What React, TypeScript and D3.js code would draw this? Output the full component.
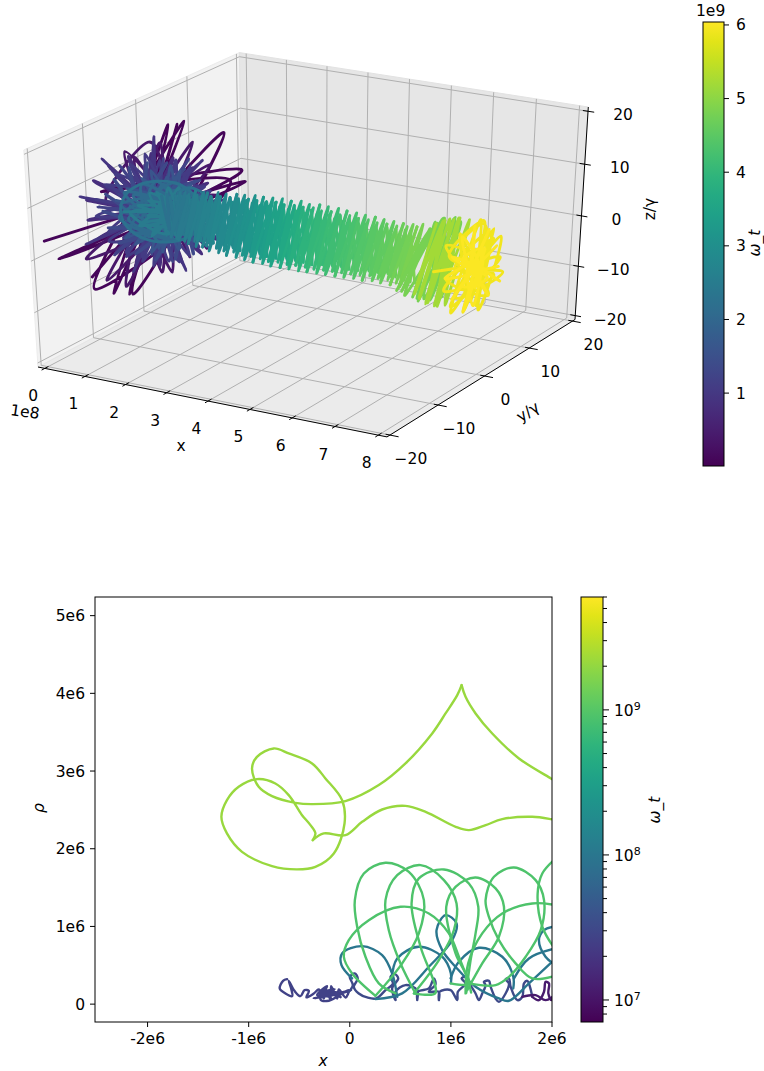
import React from 'react';
import * as d3 from 'd3';

type P3 = [number, number, number];
type P2 = [number, number];

const xTicks3d = [0, 1, 2, 3, 4, 5, 6, 7, 8];
const yTicks3d = [-20, -10, 0, 10, 20];
const zTicks3d = [-20, -10, 0, 10, 20];
const xLim3d: P2 = [-0.17, 8.2];
const yLim3d: P2 = [-20.6, 20.6];
const zLim3d: P2 = [-20.8, 20.8];

const topBarTicks = [1, 2, 3, 4, 5, 6];
const topBarDomain: P2 = [0.01, 6.04];

// x position along the beam -> omega_t in 1e9
const trailStopX = [0, 0.7, 1.2, 2.2, 4, 6, 7, 7.5, 8];
const trailStopW = [2, 2.4, 2.6, 3, 4, 4.7, 5.1, 5.9, 6.04];

// burst near x = 0, each group has one omega_t
const burstFirstW = 0.1;
const burstFirst: P3[] = [
  [0.02, -19.4, 3.5], [0.03, 19.8, -4.1], [0.04, -17.1, -1.1], [0.05, 18.8, -1.1], [0.05, -8.8, 7.7],
  [0.06, 16.3, -2], [0.06, -11, -10.1], [0.07, 7.3, 13.7], [0.08, -7.6, -12.7], [0.08, 4.1, 14.5],
  [0.09, -4.7, -14.4], [0.1, 5.7, 13.9], [0.1, -4.1, -14.7], [0.11, 14.9, 8.1], [0.12, -11.8, -7.2],
];
const burstSecondW = 0.4;
const burstSecond: P3[] = [
  [0.12, 10.8, -13.1], [0.13, -4.7, 13.5], [0.14, 3.5, -14.2], [0.14, -0.4, 13.3], [0.15, -8.8, 6.3],
  [0.16, 13, -3.5], [0.16, -13, -3], [0.17, 11.5, 3.5], [0.18, -9.5, -9], [0.18, 8, 9.5],
  [0.19, -6, -12], [0.2, 1.5, 12.4], [0.2, 1, -12.8], [0.21, -3.5, 12], [0.22, 6.5, -12.5],
];
const burstPetalsOuterW = 0.8;
const burstPetalsOuter: P3[] = [
  [0.1, 12.8, -4.5], [0.11, 4.9, -0.9], [0.12, 11.3, -0.2], [0.12, 4, 0.8], [0.13, 8.3, 4.3], [0.14, 2.6, 2.5],
  [0.14, 4.4, 8.1], [0.15, 0.9, 3.9], [0.16, 0, 11], [0.16, -0.9, 4.7], [0.17, -4.4, 12.5], [0.18, -2.6, 5.1],
  [0.18, -8.3, 12.7], [0.19, -4, 4.8], [0.2, -11.3, 11.2], [0.2, -4.9, 3.9], [0.21, -12.8, 8.3], [0.22, -5.2, 2.6],
  [0.22, -12.8, 4.5], [0.23, -4.9, 0.9], [0.24, -11.3, 0.2], [0.24, -4, -0.8], [0.25, -8.3, -4.3], [0.26, -2.6, -2.5],
  [0.26, -4.4, -8.1], [0.27, -0.9, -3.9], [0.28, 0, -11], [0.28, 0.9, -4.7], [0.29, 4.4, -12.5], [0.3, 2.6, -5.1],
  [0.3, 8.3, -12.7], [0.31, 4, -4.8], [0.32, 11.3, -11.2], [0.32, 4.9, -3.9], [0.33, 12.8, -8.3], [0.34, 5.2, -2.6],
];
const burstRaysOuterW = 0.95;
const burstRaysOuter: P3[] = [
  [0.14, 14.5, -5], [0.15, 1.5, -0.5], [0.15, 9, 0.5], [0.16, 0.5, 0.5], [0.16, 10, 5], [0.17, 0.8, 1.2],
  [0.17, 3.6, 6.5], [0.18, 0, 1.2], [0.18, 0.5, 14], [0.19, -0.5, 1.8], [0.19, -3.5, 10], [0.2, -1, 2],
  [0.2, -9.5, 14.5], [0.21, -1.5, 1.5], [0.21, -9, 9], [0.22, -1.5, 1], [0.22, -14, 9.5], [0.23, -2, 0.8],
  [0.23, -10.5, 3.6], [0.24, -1.5, 0.3], [0.24, -13.5, 0.2], [0.25, -1.5, -0.5], [0.25, -6.6, -3.4], [0.26, -0.8, -1],
  [0.26, -5, -9.5], [0.27, -0.3, -1.5], [0.27, 0, -8.8], [0.28, 0.3, -1.8], [0.28, 5.2, -14.5], [0.29, 1, -2],
  [0.29, 6.6, -10], [0.3, 1.5, -1.8], [0.3, 13.5, -13], [0.31, 1.8, -1.5], [0.31, 10, -6.6], [0.32, 2, -0.8],
];
const burstThirdW = 1.05;
const burstThird: P3[] = [
  [0.2, -11, 7.5], [0.2, 10, -8], [0.21, -9, -1.5], [0.22, 11, -1.5], [0.22, -6, -6], [0.23, 8, 2],
  [0.24, -3, -8.5], [0.24, 7, 5.5], [0.25, -1, -10.5], [0.26, 4, 8], [0.26, 2, -11], [0.27, -2, 12],
  [0.28, 6, -12], [0.28, -5, 11.5], [0.29, 9, -10.5], [0.3, -8, 11], [0.3, 12, -8], [0.31, -10, 10],
  [0.32, 11, -4.5], [0.32, -12, 5], [0.33, 9, 0.5], [0.34, -10, 1], [0.34, 6, 5], [0.35, -7, -4.5],
  [0.36, 3, 7.5], [0.36, -4, -7], [0.37, 0, 10], [0.38, -1, -8.5], [0.38, -3, 10.5], [0.39, 3, -11.5],
  [0.4, -6, 10], [0.4, 7, -10.5], [0.41, -9, 8.5], [0.42, 10, -9], [0.42, -11, 5.5], [0.43, 12, -5],
  [0.44, -8, -1], [0.44, 8, 0],
];
const burstRaysInnerW = 1.2;
const burstRaysInner: P3[] = [
  [0.24, 11, -2.5], [0.25, 1, 0], [0.25, 7, 2], [0.26, 0.5, 1], [0.26, 6.5, 7], [0.27, 0, 1.5], [0.27, 1.5, 9.5],
  [0.28, -0.5, 1.5], [0.28, -2, 8.5], [0.29, -1, 1.5], [0.29, -7, 12.2], [0.3, -1.5, 1], [0.3, -7.5, 7], [0.31, -1.5, 0.5],
  [0.31, -11.5, 6.5], [0.32, -1.5, 0], [0.32, -8, 1], [0.33, -1, -0.8], [0.33, -9, -4], [0.34, -0.5, -1.2], [0.34, -2, -7.5],
  [0.35, 0, -1.5], [0.35, 2, -11], [0.36, 0.5, -1.5], [0.36, 5, -8], [0.37, 1, -1.2], [0.37, 9, -11.5], [0.38, 1.5, -1],
  [0.38, 9, -5], [0.39, 1.5, -0.5],
];
const burstPetalsInnerW = 1.35;
const burstPetalsInner: P3[] = [
  [0.24, 11, -5.5], [0.25, 4, 0.8], [0.26, 10.3, -2], [0.26, 2.6, 2.5], [0.27, 8.5, 1.9], [0.28, 0.9, 3.9],
  [0.28, 5.5, 5.5], [0.29, -0.9, 4.7], [0.3, 1.9, 8.5], [0.3, -2.6, 5.1], [0.31, -1.9, 10.3], [0.32, -4, 4.8],
  [0.32, -5.5, 11.1], [0.33, -4.9, 3.9], [0.34, -8.5, 10.3], [0.34, -5.2, 2.6], [0.35, -10.3, 8.4], [0.36, -4.9, 0.9],
  [0.36, -11, 5.5], [0.37, -4, -0.8], [0.38, -10.3, 2], [0.38, -2.6, -2.5], [0.39, -8.5, -1.9], [0.4, -0.9, -3.9],
  [0.4, -5.5, -5.5], [0.41, 0.9, -4.7], [0.42, -1.9, -8.5], [0.42, 2.6, -5.1], [0.43, 1.9, -10.3], [0.44, 4, -4.8],
  [0.44, 5.5, -11.1], [0.45, 4.9, -3.9], [0.46, 8.5, -10.3], [0.46, 5.2, -2.6], [0.47, 10.3, -8.4], [0.48, 4.9, -0.9],
];
const burstFourthW = 1.6;
const burstFourth: P3[] = [
  [0.3, -8, 6], [0.31, 8, -6], [0.32, -7, 1], [0.33, 8, -1], [0.33, -5, -4], [0.34, 6, 2], [0.35, -2, -7],
  [0.36, 4, 6], [0.37, 0, -8], [0.38, 2, 8], [0.39, 3, -9], [0.4, -2, 9], [0.41, 6, -9], [0.42, -4, 8.5],
  [0.43, 8, -7.5], [0.44, -7, 8], [0.45, 9, -5], [0.46, -8, 4], [0.47, 7, 0], [0.48, -8, -1], [0.49, 5, 3],
  [0.5, -5, -3], [0.51, 2, 6], [0.52, -2, -6], [0.53, 0, 7], [0.54, 2, -8],
];
const burstFifthW = 2.1;
const burstFifth: P3[] = [
  [0.3, 8, -4], [0.31, -6.5, 6.8], [0.32, 2.5, -6.9], [0.33, -7.8, 2.6], [0.34, 5.4, 1.8], [0.35, -4, -3.2],
  [0.36, -0.8, 6.3], [0.37, 5.4, -7.1], [0.38, -7.8, 5.2], [0.39, 7.3, -1.2], [0.4, -0.8, -5.5], [0.41, -4, 7.2],
  [0.42, 7.3, -6.1], [0.43, -6.5, -0.3], [0.44, 2.5, 4.5], [0.45, 8, -4], [0.46, -6, 6.2], [0.47, 2.2, -6.4],
  [0.48, -7.2, 2.2], [0.49, 5, 1.4], [0.5, -3.6, -3], [0.51, -0.6, 5.8], [0.52, 5, -6.6], [0.53, -7.2, 4.8],
];
const burstCoreW = 2.5;
const burstCore: P3[] = [
  [0.35, -7, 3.4], [0.37, 6, -3.4], [0.39, -4.5, -0.5], [0.41, 5, 0.8], [0.43, -2.5, -3.5], [0.45, 3, 3.4],
  [0.47, 0, -4.5], [0.49, 0.5, 4.6], [0.51, 3, -5], [0.53, -2, 5], [0.55, 4.5, -4.2], [0.57, -4, 4.4],
  [0.59, 5, -2.5], [0.61, -4.5, 1.8], [0.63, 3.5, 0.5], [0.65, -3.5, -1.5], [0.67, 1.5, 2.8], [0.69, -1, -3.4],
  [0.4, -6.2, 2.8], [0.42, 5.6, -2.2], [0.44, -5, 3.8], [0.46, 5.8, -4.4], [0.48, -3, 5.2], [0.5, 1.8, -5.4],
  [0.52, -1.4, 4], [0.54, 2, -3.4], [0.56, -5.4, 0.6], [0.58, 6.2, -2.8], [0.6, -2.2, 3], [0.62, 1, -2.4],
  [0.64, -3.2, 1.4], [0.66, 3.8, -1.2], [0.68, -1.6, 1.6], [0.7, 2.4, -1.8], [0.72, -2.8, 3.6], [0.74, 3.2, -3.8],
  [0.76, -0.6, 2.2], [0.78, 1.4, -0.8], [0.8, -2, -0.6], [0.82, 2.6, 1.8], [0.84, -1.2, -2], [0.86, 0.8, 3],
];
const burstRimW = 2.25;
const burstRim: P3[] = [
  [0.32, 8, -4], [0.33, 7.3, -1.2], [0.34, 5.4, 1.8], [0.35, 2.5, 4.5], [0.36, -0.8, 6.3], [0.37, -4, 7.2],
  [0.38, -6.5, 6.8], [0.39, -7.8, 5.2], [0.4, -7.8, 2.6], [0.41, -6.5, -0.3], [0.42, -4, -3.2], [0.43, -0.8, -5.5],
  [0.44, 2.5, -6.9], [0.45, 5.4, -7.1], [0.46, 7.3, -6.1], [0.47, 8, -4], [0.5, 5, -0.5], [0.53, 7, 0.2],
  [0.56, 4, 3], [0.6, 1.5, 3.2],
];

// zigzag of the beam between the burst and the end cap
const trailCross: P3[] = [
  [0.45, -0.5, 3.4], [0.5, 0.4, -3.6], [0.56, -0.3, 3.8], [0.61, 0.6, -3.5], [0.67, -0.6, 3.5], [0.72, 0.3, -4],
  [0.78, -0.4, 3.9], [0.83, 0.6, -4.1], [0.89, -0.2, 3.6], [0.94, 0.5, -4.3], [1, -0.6, 4.2], [1.05, 0.2, -4],
  [1.11, -0.4, 4.3], [1.16, 0.6, -4.5], [1.22, -0.3, 3.9], [1.27, 0.5, -4.7], [1.33, -0.6, 4.5], [1.38, 0.3, -4.3],
  [1.44, -0.2, 4.6], [1.49, 0.6, -5], [1.55, -0.5, 4.2], [1.6, 0.3, -4.6], [1.66, -0.4, 4.9], [1.71, 0.6, -5.2],
  [1.77, -0.3, 4.4], [1.82, 0.5, -4.8], [1.88, -0.6, 5], [1.93, 0.2, -5.3], [1.99, -0.4, 4.6], [2.04, 0.6, -5],
  [2.1, -0.2, 5.2], [2.15, 0.5, -5.5], [2.21, -0.5, 4.7], [2.26, 0.3, -5.1], [2.32, -0.4, 5.3], [2.37, 0.6, -5.6],
  [2.43, -0.3, 4.8], [2.48, 0.5, -5.2], [2.54, -0.6, 5.5], [2.59, 0.2, -5.7], [2.65, -0.3, 5], [2.7, 0.6, -5.3],
  [2.76, -0.4, 5.6], [2.81, 0.4, -5.8], [2.87, -0.6, 5], [2.92, 0.3, -5.3], [2.98, -0.2, 5.7], [3.03, 0.6, -5.9],
  [3.09, -0.5, 5.1], [3.14, 0.3, -5.4], [3.2, -0.4, 5.8], [3.25, 0.5, -6], [3.31, -0.3, 5.2], [3.36, 0.6, -5.4],
  [3.42, -0.5, 5.8], [3.47, 0.2, -5.9], [3.53, -0.4, 5.1], [3.58, 0.6, -5.3], [3.64, -0.2, 5.8], [3.69, 0.5, -5.9],
  [3.75, -0.6, 5.1], [3.8, 0.3, -5.2], [3.86, -0.3, 5.7], [3.91, 0.6, -5.8], [3.97, -0.5, 5], [4.02, 0.2, -5.3],
  [4.08, -0.4, 5.7], [4.13, 0.6, -5.8], [4.19, -0.2, 5], [4.24, 0.5, -5.1], [4.3, -0.6, 5.6], [4.35, 0.3, -5.7],
  [4.41, -0.3, 4.9], [4.46, 0.6, -5.1], [4.52, -0.5, 5.5], [4.57, 0.2, -5.6], [4.63, -0.4, 4.8], [4.68, 0.6, -5],
  [4.74, -0.2, 5.4], [4.79, 0.5, -5.5], [4.85, -0.6, 4.7], [4.9, 0.3, -4.9], [4.96, -0.3, 5.3], [5.01, 0.6, -5.4],
  [5.07, -0.5, 4.6], [5.12, 0.2, -4.8], [5.18, -0.4, 5.2], [5.23, 0.6, -5.3], [5.29, -0.2, 4.5], [5.34, 0.5, -4.7],
  [5.4, -0.6, 5], [5.45, 0.3, -5.2], [5.51, -0.3, 4.4], [5.56, 0.6, -4.7], [5.62, -0.5, 4.9], [5.67, 0.2, -5.1],
  [5.73, -0.4, 4.4], [5.78, 0.6, -4.6], [5.84, -0.2, 4.8], [5.89, 0.5, -5], [5.95, -0.6, 4.3], [6, 0.3, -4.8],
  [6.06, -0.3, 4.8], [6.11, 0.6, -5.2], [6.17, -0.5, 4.5], [6.22, 0.2, -5], [6.28, -0.4, 5], [6.33, 0.6, -5.4],
  [6.39, -0.2, 4.8], [6.44, 0.5, -5.4],
];
const trailPath: P3[] = [
  [0.7, 1.2, 3.6], [0.75, -1.3, -3.8], [0.81, 1.4, 3.9], [0.86, -1, -4.1], [0.92, 1.1, 3.7], [0.97, -1.5, -3.9],
  [1.03, 1.6, 4.2], [1.08, -1.2, -4.2], [1.14, 1, 3.8], [1.19, -1.4, -4.4], [1.25, 1.5, 4.3], [1.3, -1, -4],
  [1.36, 1.3, 4.4], [1.41, -1.6, -4.6], [1.47, 1.1, 4], [1.52, -1.2, -4.7], [1.58, 1.7, 4.6], [1.63, -1.3, -4.3],
  [1.69, 1.2, 4.2], [1.74, -1.7, -4.9], [1.8, 1.5, 4.7], [1.85, -1.1, -4.5], [1.91, 1.3, 4.3], [1.96, -1.6, -5],
  [2.02, 1.8, 4.8], [2.07, -1.4, -4.6], [2.13, 1.2, 4.4], [2.18, -1.8, -5.1], [2.24, 1.6, 5], [2.29, -1.2, -4.6],
  [2.35, 1.4, 4.5], [2.4, -1.7, -5.2], [2.46, 1.9, 5.1], [2.51, -1.3, -4.8], [2.57, 1.3, 4.6], [2.62, -1.8, -5.3],
  [2.68, 1.7, 5.2], [2.73, -1.4, -4.7], [2.79, 1.2, 4.6], [2.84, -1.9, -5.4], [2.9, 1.8, 5.3], [2.95, -1.3, -4.9],
  [3.01, 1.5, 4.8], [3.06, -1.8, -5.4], [3.12, 1.9, 5.4], [3.17, -1.5, -5], [3.23, 1.3, 4.7], [3.28, -2, -5.5],
  [3.34, 1.8, 5.3], [3.39, -1.4, -4.9], [3.45, 1.5, 4.8], [3.5, -1.9, -5.5], [3.56, 2, 5.5], [3.61, -1.4, -5],
  [3.67, 1.4, 4.8], [3.72, -2, -5.4], [3.78, 1.8, 5.3], [3.83, -1.5, -4.8], [3.89, 1.6, 4.9], [3.94, -1.9, -5.5],
  [4, 2, 5.4], [4.05, -1.4, -4.9], [4.11, 1.4, 4.7], [4.16, -2, -5.3], [4.22, 1.9, 5.4], [4.27, -1.5, -4.9],
  [4.33, 1.5, 4.8], [4.38, -1.9, -5.3], [4.44, 2.1, 5.3], [4.49, -1.4, -4.8], [4.55, 1.4, 4.6], [4.6, -2, -5.2],
  [4.66, 1.9, 5.2], [4.71, -1.5, -4.7], [4.77, 1.5, 4.7], [4.82, -1.9, -5.2], [4.88, 2, 5.1], [4.93, -1.5, -4.6],
  [4.99, 1.4, 4.5], [5.04, -2, -5.1], [5.1, 1.9, 5], [5.15, -1.5, -4.5], [5.21, 1.5, 4.5], [5.26, -1.9, -5],
  [5.32, 2, 4.9], [5.37, -1.5, -4.4], [5.43, 1.4, 4.3], [5.48, -2, -5], [5.54, 1.9, 4.8], [5.59, -1.4, -4.3],
  [5.65, 1.5, 4.3], [5.7, -1.9, -4.8], [5.76, 2, 4.7], [5.81, -1.6, -4.3], [5.87, 1.6, 4.2], [5.92, -2.1, -4.8],
  [5.98, 2, 4.6], [6.03, -1.5, -4.4], [6.09, 1.8, 4.3], [6.14, -2, -4.9], [6.2, 2.1, 4.7], [6.25, -1.7, -4.6],
  [6.31, 1.9, 4.5], [6.36, -2.1, -5], [6.42, 2.2, 5], [6.47, -1.8, -4.9],
];

const capLimeW = 4.8;
const capLimeFan: P3[] = [
  [6.5, -3.2, -4], [6.6, 2, 4.5], [6.45, -3.4, -4.8], [6.7, 1.2, 5], [6.6, -0.4, -7.7], [6.85, 0.8, 6.7],
  [6.9, 0, -7.1], [7.1, 0.4, 8], [7, -1.2, -7], [7.4, 0.2, 7.4], [6.75, -1.5, -7.4], [7.2, 1.8, 7.6],
  [6.55, -2.6, -6], [7, -0.2, 7.2], [6.8, 0.6, -7.6], [7.3, 0.8, 7.8], [7.05, 0.8, -7.4], [6.95, 1.6, 7.2],
  [6.65, -1.8, -6.6], [6.8, 2.2, 5.8], [6.5, -2.8, -5.2], [6.7, 2.8, 5.2], [7, -2.6, -6], [7.2, 3, 6.2],
  [7.2, -2, -7.2], [7.35, 1.4, 7],
];
const capLimeBright = 5.2;
const capLime: P3[] = [
  [6.7, 2.4, 5.4], [6.75, -2.4, -5.6], [6.8, 2.8, 5.8], [6.84, -2.2, -6.2], [6.88, 2.6, 6.2], [6.92, -2.8, -6],
  [6.96, 1.5, 6.8], [7, -1.8, -7.2], [7.04, 3, 6.4], [7.08, -3, -6.6], [7.12, 1.4, 7.4], [7.16, -1.2, -7.4],
  [7.2, 2.8, 7], [7.24, -2.6, -7], [7.28, 1.8, 7.6], [7.32, -1, -7.6], [7.36, 3.4, 6.6], [7.4, -3.4, -6.4],
];
const capYellowW = 5.9;
const capYellow: P3[] = [
  [7.52, -5.5, 1.5], [7.56, 5.5, -1.8], [7.58, -3.5, 5.5], [7.6, 4, -6.5], [7.62, -1, 6.5], [7.64, 1.5, -7.5],
  [7.66, 3, 7.2], [7.68, -3, -7.5], [7.7, 5.5, 2.5], [7.72, -5, -2.2], [7.74, 5.6, -4.6], [7.76, -4.5, 4.2],
  [7.78, 2.2, 7.6], [7.8, -1.5, -8], [7.81, 4.5, 5], [7.82, -4.4, -5.4], [7.84, 5.8, -1], [7.86, -6, 0.8],
  [7.88, 3, -7], [7.9, -2.8, 7], [7.92, 0.5, 8], [7.94, 0.5, -8.4], [7.95, 4.8, 3.6], [7.96, -4.6, -3.4],
  [7.98, 5.2, -3.4], [8, -5.4, 2.8], [8.02, 1.5, 6.2], [8.04, -1, -6.6],
];
const capYellowLast = 6;
const capYellowPetals: P3[] = [
  [7.8, 5.9, -3], [7.82, 1, -1], [7.84, 5, 1.5], [7.86, 0, 0], [7.88, 2.8, 5.8], [7.9, -1, 0.5], [7.8, 0.4, 7.6],
  [7.82, -0.5, -0.5], [7.86, -2.8, 7.2], [7.88, 0.6, 0.4], [7.9, -5.2, 4.6], [7.8, 0, -1], [7.82, -5.8, 0.8],
  [7.84, 0.8, 0.8], [7.88, -4.8, -3.6], [7.9, -0.6, -0.2], [7.92, -2.6, -7], [7.95, 1, 1], [7.8, 0.6, -7.8],
  [7.82, -1, 0.4], [7.86, 3.4, -7.2], [7.88, -0.4, 0.6], [7.9, 5.4, -5.4], [7.92, 1, 0], [7.84, 2.4, 2.2],
  [7.88, -2.2, -2.6], [7.9, 2.6, -3.4], [7.86, -2.6, 2.8], [7.92, 0.4, 3.4], [7.88, 0.2, -4],
];

// lower panel: x and rho in units of 1e6
const xTicks2d = [-2, -1, 0, 1, 2];
const xTickLabels2d = ['-2e6', '-1e6', '0', '1e6', '2e6'];
const rhoTicks2d = [0, 1, 2, 3, 4, 5];
const rhoTickLabels2d = ['0', '1e6', '2e6', '3e6', '4e6', '5e6'];
const xLim2d: P2 = [-2.52, 2];
const rhoLim2d: P2 = [-0.23, 5.24];
const logBarDomain: P2 = [7.05e6, 6e9];
const logBarMajor = [1e7, 1e8, 1e9];
const logBarExponents = ['7', '8', '9'];
const logBarMinor = [8e6, 9e6, 2e7, 3e7, 4e7, 5e7, 6e7, 7e7, 8e7, 9e7, 2e8, 3e8, 4e8, 5e8, 6e8, 7e8, 8e8, 9e8, 2e9, 3e9, 4e9, 5e9, 6e9];

const limeW = 2.1e9;
const limeRight: P2[] = [
  [2.02, 2.88], [1.99, 2.905], [1.673, 3.162], [1.409, 3.483], [1.244, 3.741], [1.145, 3.955], [1.106, 4.106],
];
const limeLoops: P2[] = [
  [1.106, 4.106], [1.063, 3.977], [0.947, 3.741], [0.815, 3.484], [0.551, 3.098], [0.287, 2.819], [-0.043, 2.613],
  [-0.373, 2.574], [-0.538, 2.591], [-0.769, 2.677], [-0.901, 2.797], [-0.967, 3.033], [-0.918, 3.183], [-0.752, 3.291],
  [-0.604, 3.226], [-0.373, 3.098], [-0.241, 2.905], [-0.076, 2.625], [-0.052, 2.325], [-0.158, 1.939], [-0.34, 1.767],
  [-0.522, 1.734], [-0.769, 1.776], [-1.066, 1.96], [-1.215, 2.197], [-1.27, 2.411], [-1.215, 2.625], [-1.099, 2.797],
  [-0.918, 2.896], [-0.736, 2.84], [-0.604, 2.69], [-0.505, 2.497], [-0.472, 2.432], [-0.389, 2.304], [-0.34, 2.197],
  [-0.366, 2.111],
];
const limeTail: P2[] = [
  [-0.366, 2.111], [-0.257, 2.197], [-0.043, 2.175], [0.122, 2.346], [0.32, 2.505], [0.551, 2.552], [0.75, 2.475],
  [1.047, 2.282], [1.178, 2.239], [1.344, 2.304], [1.508, 2.381], [1.805, 2.411], [1.99, 2.381], [2.03, 2.37],
];

const greenW = 9.1e8;
const greenLoopA: P2[] = [
  [0.452, 0.138], [0.287, 0.267], [0.155, 0.61], [0.073, 0.996], [0.05, 1.339], [0.139, 1.682], [0.353, 1.819],
  [0.584, 1.703], [0.733, 1.339], [0.683, 0.91], [0.518, 0.524], [0.254, 0.107],
];
const greenArchA: P2[] = [
  [0.254, 0.107], [0.023, 0.395], [-0.059, 0.61], [-0.01, 0.824], [0.188, 1.081], [0.502, 1.253], [0.782, 1.167],
  [0.98, 0.91], [1.079, 0.61], [1.178, 0.267], [1.2, 0.15],
];
const greenLoopB: P2[] = [
  [0.65, 0.138], [0.502, 0.524], [0.386, 0.952], [0.353, 1.339], [0.469, 1.66], [0.7, 1.789], [0.931, 1.596],
  [1.056, 1.296], [1.03, 0.952], [0.881, 0.566], [0.634, 0.138],
];
const greenLoopC: P2[] = [
  [0.634, 0.138], [0.75, 0.12], [0.848, 0.146], [0.7, 0.738], [0.611, 1.296], [0.683, 1.618], [0.931, 1.733],
  [1.178, 1.553], [1.271, 1.253], [1.244, 0.91], [1.195, 0.566], [1.152, 0.146],
];
const greenLoopD: P2[] = [
  [0.997, 0.267], [1.178, 0.267], [1.046, 0.652], [0.954, 1.253], [1.046, 1.51], [1.244, 1.63], [1.442, 1.489],
  [1.525, 1.253], [1.475, 0.867], [1.31, 0.524], [1.162, 0.181],
];
const greenLoopE: P2[] = [
  [2.02, 0.36], [1.805, 0.331], [1.64, 0.524], [1.475, 0.824], [1.376, 1.124], [1.343, 1.339], [1.426, 1.639],
  [1.624, 1.759], [1.838, 1.596], [1.921, 1.339], [1.888, 0.952], [1.74, 0.61], [1.574, 0.352], [1.442, 0.245],
  [1.178, 0.267],
];
const greenArchB: P2[] = [[1.145, 0.138], [1.171, 0.524], [1.31, 0.91], [1.508, 1.167], [1.805, 1.296], [2.037, 1.274]];
const greenEdge: P2[] = [[2.037, 1.875], [1.904, 1.682], [1.858, 1.424], [1.904, 0.996], [2.037, 0.695]];

const tealW = 1e8;
const tealArchA: P2[] = [[0.023, 0.331], [-0.082, 0.502], [-0.076, 0.652], [0.122, 0.746], [0.32, 0.631], [0.419, 0.395], [0.469, 0.094]];
const tealArchB: P2[] = [[0.413, 0.31], [0.469, 0.588], [0.683, 0.738], [0.914, 0.61], [1, 0.395], [1, 0.267]];
const tealArchC: P2[] = [[0.997, 0.331], [1.079, 0.545], [1.277, 0.725], [1.508, 0.61], [1.617, 0.352], [1.617, 0.202]];
const tealArchD: P2[] = [[1.624, 0.331], [1.772, 0.588], [2.037, 0.717]];
const tealLoop: P2[] = [
  [0.254, 0.065], [0.518, 0.138], [0.782, 0.481], [1.013, 0.824], [1.056, 1.039], [0.947, 1.145], [0.858, 0.952],
  [0.914, 0.695], [1.046, 0.481], [1.244, 0.224], [1.475, 0.073], [1.574, 0.043], [1.772, 0.267], [2.037, 0.588],
];
const tealEdge: P2[] = [[2.037, 1.003], [1.921, 0.952], [1.871, 0.824], [1.936, 0.61], [2.037, 0.502]];

const indigoW = 3.2e7;
const indigoCurl: P2[] = [
  [-0.01, 0.159], [0.03, 0.245], [0, 0.352], [0.049, 0.395], [0.079, 0.33], [0.04, 0.223], [0.089, 0.137], [0.172, 0.086],
  [0.261, 0.073], [0.353, 0.18], [0.426, 0.266], [0.403, 0.352], [0.446, 0.386], [0.479, 0.33], [0.419, 0.202], [0.452, 0.051],
  [0.452, 0.159], [0.551, 0.245], [0.667, 0.18], [0.667, 0.051], [0.673, 0.159], [0.782, 0.202], [0.815, 0.287], [0.832, 0.33],
  [0.848, 0.257], [0.782, 0.159], [0.881, 0.159], [0.881, 0.051], [0.888, 0.159], [0.997, 0.18], [1.063, 0.051], [1.069, 0.159],
  [1.145, 0.266], [1.106, 0.33], [1.145, 0.352], [1.172, 0.287], [1.244, 0.137], [1.277, 0.051], [1.31, 0.137], [1.343, 0.245],
  [1.327, 0.287], [1.376, 0.3], [1.393, 0.223], [1.442, 0.073], [1.475, 0.03], [1.541, 0.137], [1.574, 0.266], [1.541, 0.318],
  [1.574, 0.33], [1.591, 0.223], [1.657, 0.051], [1.706, 0.094], [1.723, 0.266], [1.756, 0.3], [1.782, 0.223], [1.805, 0.094],
];
const purpleW = 1.15e7;
const purpleCurl: P2[] = [
  [1.805, 0.094], [1.871, 0.051], [1.921, 0.159], [1.937, 0.287], [1.97, 0.266], [1.964, 0.137], [1.997, 0.051], [2.036, 0.137],
];
const purpleTail: P2[] = [[1.706, 0.094], [1.838, 0.116], [1.937, 0.051], [2.03, 0.12]];
const blobW = 2.7e7;
const blobCurl: P2[] = [
  [-0.62, 0.321], [-0.66, 0.3], [-0.693, 0.201], [-0.636, 0.137], [-0.57, 0.103], [-0.58, 0.201], [-0.603, 0.3], [-0.547, 0.171],
  [-0.488, 0.103], [-0.448, 0.18], [-0.405, 0.171], [-0.429, 0.086], [-0.356, 0.137], [-0.306, 0.188], [-0.257, 0.073], [-0.24, 0.201],
  [-0.191, 0.06], [-0.184, 0.231], [-0.125, 0.073], [-0.108, 0.188], [-0.042, 0.086], [-0.01, 0.18], [-0.207, 0.043], [-0.29, 0.06],
  [-0.224, 0.231], [-0.323, 0.116], [-0.092, 0.146], [-0.273, 0.158], [-0.158, 0.137], [-0.356, 0.073], [-0.059, 0.158], [0.014, 0.18],
  [-0.12, 0.13], [-0.25, 0.1], [-0.15, 0.19], [-0.3, 0.13], [-0.2, 0.1], [-0.27, 0.18], [-0.09, 0.09],
];

const FONT = '"DejaVu Sans"';
const FS = 15.5;

// same camera matplotlib uses for elev 30, azim -60, dist 10
const elev = (30 * Math.PI) / 180;
const azim = (-60 * Math.PI) / 180;
const dist = 10;
const uScale = d3.scaleLinear().domain(xLim3d).range([-0.5, 0.5]);
const vScale = d3.scaleLinear().domain(yLim3d).range([-0.5, 0.5]);
const wScale = d3.scaleLinear().domain(zLim3d).range([-0.5, 0.5]);

function camera(x: number, y: number, z: number): P2 {
  const u = uScale(x), v = vScale(y), w = wScale(z);
  const right = -Math.sin(azim) * u + Math.cos(azim) * v;
  const up = -Math.sin(elev) * Math.cos(azim) * u - Math.sin(elev) * Math.sin(azim) * v + Math.cos(elev) * w;
  const depth = Math.cos(elev) * Math.cos(azim) * u + Math.cos(elev) * Math.sin(azim) * v + Math.sin(elev) * w;
  const k = dist / (dist - depth);
  return [right * k, up * k];
}

const [x0, x1] = xLim3d, [y0, y1] = yLim3d, [z0, z1] = zLim3d;
const screenX = d3.scaleLinear().domain([camera(x0, y0, z0)[0], camera(x1, y1, z0)[0]]).range([38, 575]);
const screenY = d3.scaleLinear().domain([camera(x0, y0, z0)[1], camera(x1, y1, z1)[1]]).range([367, 107]);
function pr(x: number, y: number, z: number): P2 {
  const c = camera(x, y, z);
  return [screenX(c[0]), screenY(c[1])];
}
const line3 = (pts: P2[]) => 'M' + pts.map(p => `${p[0].toFixed(1)},${p[1].toFixed(1)}`).join('L');
const curve3d = d3.line<P3>(d => pr(d[0], d[1], d[2])[0], d => pr(d[0], d[1], d[2])[1]).curve(d3.curveCatmullRom.alpha(1));

const topColor = d3.scaleSequential(d3.interpolateViridis).domain(topBarDomain);
const trailOmega = d3.scaleLinear().domain(trailStopX).range(trailStopW);
const topBarY = d3.scaleLinear().domain(topBarDomain).range([466, 22]);

const bx = d3.scaleLinear().domain(xLim2d).range([95, 552]);
const by = d3.scaleLinear().domain(rhoLim2d).range([1022, 597]);
const logBarY = d3.scaleLog().domain(logBarDomain).range([1022, 597]);
const logColor = d3.scaleSequentialLog(d3.interpolateViridis).domain(logBarDomain);
const curve2d = d3.line<P2>(d => bx(d[0]), d => by(d[1])).curve(d3.curveCatmullRom.alpha(0.5));

const gradientStops = d3.quantize(d3.interpolateViridis, 24);

const bursts: [P3[], number][] = [
  [burstFirst, burstFirstW], [burstSecond, burstSecondW], [burstPetalsOuter, burstPetalsOuterW],
  [burstRaysOuter, burstRaysOuterW], [burstThird, burstThirdW], [burstRaysInner, burstRaysInnerW],
  [burstPetalsInner, burstPetalsInnerW], [burstFourth, burstFourthW], [burstFifth, burstFifthW], [burstCore, burstCoreW], [burstRim, burstRimW],
];
const capLayers: [P3[], number][] = [
  [capLimeFan, capLimeW], [capLime, capLimeBright], [capYellow, capYellowW], [capYellowPetals, capYellowLast],
];
const lowerCurves: [P2[], number][] = [
  [blobCurl, blobW], [indigoCurl, indigoW], [purpleCurl, purpleW], [purpleTail, purpleW],
  [tealArchA, tealW], [tealArchB, tealW], [tealArchC, tealW], [tealArchD, tealW], [tealLoop, tealW], [tealEdge, tealW],
  [greenLoopA, greenW], [greenArchA, greenW], [greenLoopB, greenW], [greenLoopC, greenW], [greenLoopD, greenW],
  [greenLoopE, greenW], [greenArchB, greenW], [greenEdge, greenW],
  [limeRight, limeW], [limeLoops, limeW], [limeTail, limeW],
];

// trail gets cut in short runs so the colour can follow x
const runsOf = (pts: P3[]) => d3.range(0, pts.length - 1, 3).map(i => pts.slice(i, i + 4));
const trailRuns: P3[][] = [...runsOf(trailCross), ...runsOf(trailPath)];

function fmt(v: number) {
  return v < 0 ? `\u2212${-v}` : `${v}`;
}

export default function App() {
  const a = pr(x0, y0, z0), b = pr(x1, y0, z0), c = pr(x1, y1, z0), d = pr(x1, y1, z1);
  const back = pr(x0, y1, z0), backTop = pr(x0, y1, z1), leftTop = pr(x0, y0, z1);
  const txt = { fontFamily: FONT, fontSize: FS, fill: '#000' } as const;
  const gridStyle = { stroke: '#b0b0b0', strokeWidth: 1, fill: 'none' } as const;
  const tick = { stroke: '#000', strokeWidth: 1, fill: 'none' } as const;

  return (
    <svg width={764} height={1071} style={{ position: 'absolute', left: 0, top: 0, background: '#fff' }}>
      <defs>
        <linearGradient id="viridis-up" x1="0" y1="1" x2="0" y2="0">
          {gradientStops.map((col, i) => (
            <stop key={i} offset={i / (gradientStops.length - 1)} stopColor={col} />
          ))}
        </linearGradient>
        <clipPath id="lower-box">
          <rect x={95} y={597} width={457} height={425} />
        </clipPath>
      </defs>

      {/* 3d panes */}
      <path d={line3([a, back, backTop, leftTop]) + 'Z'} fill="#f2f2f2" stroke="#ececec" />
      <path d={line3([back, c, d, backTop]) + 'Z'} fill="#e6e6e6" stroke="#e2e2e2" />
      <path d={line3([a, b, c, back]) + 'Z'} fill="#ebebeb" stroke="#e6e6e6" />

      {/* 3d grid */}
      {xTicks3d.map(t => (
        <path key={t} {...gridStyle} d={line3([pr(t, y0, z0), pr(t, y1, z0), pr(t, y1, z1)])} />
      ))}
      {yTicks3d.map(t => (
        <path key={t} {...gridStyle} d={line3([pr(x1, t, z0), pr(x0, t, z0), pr(x0, t, z1)])} />
      ))}
      {zTicks3d.map(t => (
        <path key={t} {...gridStyle} d={line3([pr(x0, y0, t), pr(x0, y1, t), pr(x1, y1, t)])} />
      ))}

      {/* 3d axis lines and ticks */}
      <path {...tick} d={line3([a, b])} />
      <path {...tick} d={line3([b, c])} />
      <path {...tick} d={line3([c, d])} />
      {xTicks3d.map(t => (
        <g key={t}>
          <path {...tick} d={line3([pr(t, y0 - 0.6, z0), pr(t, y0 + 0.7, z0)])} />
          <text {...txt} textAnchor="middle" x={pr(t, y0, z0)[0] - 11.5} y={pr(t, y0, z0)[1] + 33}>{t}</text>
        </g>
      ))}
      {yTicks3d.map(t => (
        <g key={t}>
          <path {...tick} d={line3([pr(x1 - 0.1, t, z0), pr(x1 + 0.2, t, z0)])} />
          <text {...txt} textAnchor="middle" x={pr(x1, t, z0)[0] + 21} y={pr(x1, t, z0)[1] + 29}>{fmt(t)}</text>
        </g>
      ))}
      {zTicks3d.map(t => (
        <g key={t}>
          <path {...tick} d={line3([pr(x1 - 0.12, y1, t), pr(x1 + 0.14, y1, t)])} />
          <text {...txt} textAnchor="middle" x={pr(x1, y1, t)[0] + 35} y={pr(x1, y1, t)[1] + 9}>{fmt(t)}</text>
        </g>
      ))}
      <text {...txt} textAnchor="middle" x={181} y={451}>x</text>
      <text {...txt} textAnchor="middle" transform="translate(25,412) rotate(8)" y={5}>1e8</text>
      <text {...txt} textAnchor="middle" transform="translate(528,412) rotate(-33)" y={5}>y/γ</text>
      <text {...txt} textAnchor="middle" transform="translate(650,209) rotate(-90)" y={5}>z/γ</text>

      {/* trajectory */}
      <g fill="none" strokeWidth={2.9} strokeLinecap="round" strokeLinejoin="round">
        {bursts.map(([pts, w], i) => (
          <path key={i} d={curve3d(pts) ?? ''} stroke={topColor(w)} />
        ))}
        {trailRuns.map((run, i) => (
          <path key={i} d={curve3d(run) ?? ''} stroke={topColor(trailOmega(run[0][0]))} />
        ))}
        {capLayers.map(([pts, w], i) => (
          <path key={i} d={curve3d(pts) ?? ''} stroke={topColor(w)} />
        ))}
      </g>

      {/* top colorbar */}
      <rect x={703} y={22} width={21} height={444} fill="url(#viridis-up)" stroke="#000" strokeWidth={1} />
      {topBarTicks.map(t => (
        <g key={t}>
          <line {...tick} x1={724} x2={729} y1={topBarY(t)} y2={topBarY(t)} />
          <text {...txt} x={736} y={topBarY(t) + 5.5}>{t}</text>
        </g>
      ))}
      <text {...txt} x={696} y={16}>1e9</text>
      <text {...txt} fontStyle="italic" textAnchor="middle" transform="translate(760,243) rotate(-90)">ω_t</text>

      {/* lower panel */}
      <g clipPath="url(#lower-box)" fill="none" strokeWidth={2.4} strokeLinecap="round">
        {lowerCurves.map(([pts, w], i) => (
          <path key={i} d={curve2d(pts) ?? ''} stroke={logColor(w)} />
        ))}
      </g>
      <rect x={95} y={597} width={457} height={425} fill="none" stroke="#000" strokeWidth={1} />
      {xTicks2d.map((t, i) => (
        <g key={t}>
          <line {...tick} x1={bx(t)} x2={bx(t)} y1={1022} y2={1027} />
          <text {...txt} textAnchor="middle" x={bx(t)} y={1044}>{xTickLabels2d[i]}</text>
        </g>
      ))}
      {rhoTicks2d.map((t, i) => (
        <g key={t}>
          <line {...tick} x1={90} x2={95} y1={by(t)} y2={by(t)} />
          <text {...txt} textAnchor="end" x={85} y={by(t) + 5.5}>{rhoTickLabels2d[i]}</text>
        </g>
      ))}
      <text {...txt} fontStyle="italic" textAnchor="middle" x={323} y={1066}>x</text>
      <text {...txt} fontStyle="italic" textAnchor="middle" transform="translate(39,808) rotate(-90)" y={5}>ρ</text>

      {/* log colorbar */}
      <rect x={581} y={597} width={22} height={425} fill="url(#viridis-up)" stroke="#000" strokeWidth={1} />
      {logBarMinor.map(t => (
        <line key={t} {...tick} x1={603} x2={607} y1={logBarY(t)} y2={logBarY(t)} />
      ))}
      {logBarMajor.map((t, i) => (
        <g key={t}>
          <line {...tick} x1={603} x2={609} y1={logBarY(t)} y2={logBarY(t)} />
          <text {...txt} x={614} y={logBarY(t) + 6}>
            10<tspan fontSize={11} dy={-6}>{logBarExponents[i]}</tspan>
          </text>
        </g>
      ))}
      <text {...txt} fontStyle="italic" textAnchor="middle" transform="translate(655,810) rotate(-90)" y={5}>ω_t</text>
    </svg>
  );
}
